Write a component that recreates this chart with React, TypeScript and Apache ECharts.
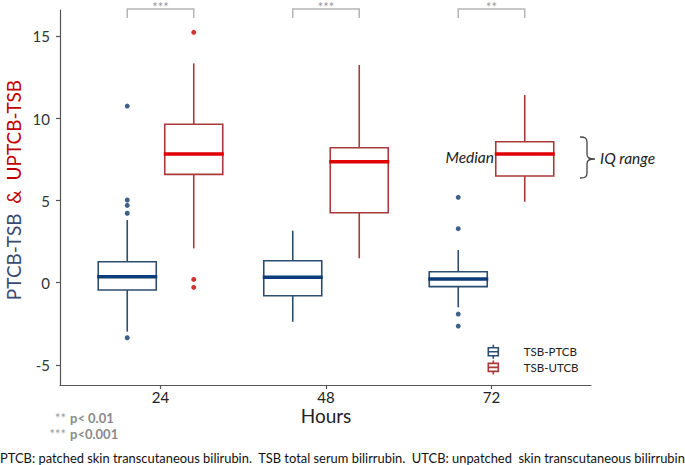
import React, { useEffect, useRef } from 'react';
import * as echarts from 'echarts';

const hours = ['24', '48', '72'];
// each box: [lower whisker, Q1, median, Q3, upper whisker]
const ptcbBoxes = [
  [-2.98, -0.44, 0.37, 1.28, 3.82],
  [-2.38, -0.79, 0.33, 1.34, 3.17],
  [-1.5, -0.24, 0.23, 0.67, 1.99],
];
const utcbBoxes = [
  [2.09, 6.6, 7.84, 9.65, 13.36],
  [1.49, 4.26, 7.37, 8.22, 13.26],
  [4.93, 6.5, 7.84, 8.59, 11.43],
];
// outliers: [hour index, value]
const ptcbOutliers = [
  [0, 10.76], [0, 5.04], [0, 4.71], [0, 4.23], [0, -3.35],
  [2, 5.2], [2, 3.29], [2, -1.91], [2, -2.64],
];
const utcbOutliers = [
  [0, 15.25], [0, 0.2], [0, -0.28],
];
const significance = ['***', '***', '**'];
const yTicks = [-5, 0, 5, 10, 15];
const seriesNames = ['TSB-PTCB', 'TSB-UTCB'];

const FONT = 'Lato, "Noto Sans", sans-serif';
const Y_MIN = -6.23;
const Y_MAX = 16.61;
const BOX_W = 58;
const DODGE = 33.25;
const SP = '\u00a0\u00a0';

const BLUE_BOX = '#2b4d70';
const BLUE_MED = '#0b3d7c';
const BLUE_PT = '#0c3a6c';
const RED_BOX = '#a83a3a';
const RED_MED = '#e00000';
const RED_PT = '#c40000';

const bracePath =
  'M0,0 C5,0 7,1 7,5 L7,17 C7,20 8,22 15,22 C8,22 7,24 7,27 L7,36 C7,40 5,41 0,41';
let braceRegistered = false;
function registerBrace() {
  if (braceRegistered) return;
  echarts.graphic.registerShape('brace', echarts.graphic.extendPath(bracePath, {}) as any);
  braceRegistered = true;
}

function boxRenderer(offset: number, boxColor: string, medColor: string) {
  return (params: any, api: any) => {
    const idx = api.value(0);
    const yMin = api.coord([idx, api.value(1)])[1];
    const yQ1 = api.coord([idx, api.value(2)])[1];
    const yMed = api.coord([idx, api.value(3)])[1];
    const yQ3 = api.coord([idx, api.value(4)])[1];
    const yMax = api.coord([idx, api.value(5)])[1];
    const cx = api.coord([idx, 0])[0] + offset;
    const hw = BOX_W / 2;
    return {
      type: 'group',
      children: [
        { type: 'line', shape: { x1: cx, y1: yMax, x2: cx, y2: yQ3 }, style: { stroke: boxColor, lineWidth: 1.6 } },
        { type: 'line', shape: { x1: cx, y1: yQ1, x2: cx, y2: yMin }, style: { stroke: boxColor, lineWidth: 1.6 } },
        {
          type: 'rect',
          shape: { x: cx - hw, y: yQ3, width: BOX_W, height: yQ1 - yQ3 },
          style: { fill: '#ffffff', stroke: boxColor, lineWidth: 1.6 },
        },
        {
          type: 'line',
          shape: { x1: cx - hw - 1, y1: yMed, x2: cx + hw + 1, y2: yMed },
          style: { stroke: medColor, lineWidth: 3.5 },
        },
      ],
    };
  };
}

export default function App() {
  const ref = useRef<HTMLDivElement>(null);

  useEffect(() => {
    document.body.style.margin = '0';
    registerBrace();
    const chart = echarts.init(ref.current!, undefined, { renderer: 'svg' });

    const legendIcon = 'path://M5,0 L5,3 M0,3 L10,3 L10,11 L0,11 Z M0,7 L10,7 M5,11 L5,14';

    const option: any = {
      animation: false,
      backgroundColor: '#ffffff',
      textStyle: { fontFamily: FONT },
      grid: [
        { left: 60, right: 94, top: 10, bottom: 80 },
        { left: 77.75, right: 110.75, top: 10, bottom: 80 },
      ],
      xAxis: [
        {
          type: 'value',
          gridIndex: 0,
          min: 0,
          max: 1,
          position: 'bottom',
          axisLine: { show: true, onZero: false, lineStyle: { color: '#555', width: 1.2 } },
          axisTick: { show: false },
          axisLabel: { show: false },
          splitLine: { show: false },
        },
        {
          type: 'category',
          gridIndex: 1,
          data: hours,
          position: 'bottom',
          boundaryGap: true,
          axisLine: { show: true, onZero: false, lineStyle: { color: '#555', width: 1.2 } },
          axisTick: { show: true, alignWithLabel: true, length: 4, lineStyle: { color: '#555', width: 1.2 } },
          axisLabel: { fontSize: 15, color: '#222', margin: 4, fontFamily: FONT },
          splitLine: { show: false },
          name: 'Hours',
          nameLocation: 'middle',
          nameGap: 21,
          nameMoveOverlap: false,
          nameTextStyle: { fontSize: 19, color: '#222', fontFamily: FONT },
        },
      ],
      yAxis: [
        {
          type: 'value',
          gridIndex: 0,
          min: Y_MIN,
          max: Y_MAX,
          axisLine: { show: true, onZero: false, lineStyle: { color: '#555', width: 1.2 } },
          axisTick: { show: true, length: 4, customValues: yTicks, lineStyle: { color: '#555', width: 1.2 } },
          axisLabel: { customValues: yTicks, fontSize: 15, color: '#333', margin: 10, fontFamily: FONT },
          splitLine: { show: false },
        },
        {
          type: 'value',
          gridIndex: 1,
          min: Y_MIN,
          max: Y_MAX,
          show: false,
        },
      ],
      legend: {
        orient: 'vertical',
        left: 482.5,
        top: 339,
        itemWidth: 11,
        itemHeight: 14,
        itemGap: 0,
        textStyle: { fontSize: 11.5, color: '#222', fontFamily: FONT, lineHeight: 14, padding: [0, 0, 0, 20] },
        data: [
          {
            name: seriesNames[0],
            icon: legendIcon,
            itemStyle: { color: 'rgba(0,0,0,0)', borderColor: BLUE_BOX, borderWidth: 1.6 },
          },
          {
            name: seriesNames[1],
            icon: legendIcon,
            itemStyle: { color: 'rgba(0,0,0,0)', borderColor: RED_BOX, borderWidth: 1.6 },
          },
        ],
      },
      series: [
        {
          name: seriesNames[0],
          type: 'custom',
          xAxisIndex: 1,
          yAxisIndex: 1,
          itemStyle: { color: BLUE_BOX },
          encode: { x: 0, y: [1, 2, 3, 4, 5] },
          data: ptcbBoxes.map((b, i) => [i, ...b]),
          renderItem: boxRenderer(-DODGE, BLUE_BOX, BLUE_MED),
        },
        {
          name: seriesNames[1],
          type: 'custom',
          xAxisIndex: 1,
          yAxisIndex: 1,
          itemStyle: { color: RED_BOX },
          encode: { x: 0, y: [1, 2, 3, 4, 5] },
          data: utcbBoxes.map((b, i) => [i, ...b]),
          renderItem: boxRenderer(DODGE, RED_BOX, RED_MED),
        },
        {
          name: 'PTCB outliers',
          type: 'scatter',
          xAxisIndex: 1,
          yAxisIndex: 1,
          symbol: 'circle',
          symbolSize: 5,
          symbolOffset: [-DODGE, 0],
          itemStyle: { color: BLUE_PT },
          data: ptcbOutliers,
        },
        {
          name: 'UTCB outliers',
          type: 'scatter',
          xAxisIndex: 1,
          yAxisIndex: 1,
          symbol: 'circle',
          symbolSize: 5,
          symbolOffset: [DODGE, 0],
          itemStyle: { color: RED_PT },
          data: utcbOutliers,
        },
        {
          name: 'significance',
          type: 'custom',
          xAxisIndex: 1,
          yAxisIndex: 1,
          clip: false,
          encode: { x: 0 },
          data: hours.map((_, i) => [i]),
          renderItem: (params: any, api: any) => {
            const x = api.coord([api.value(0), 0])[0];
            return {
              type: 'group',
              children: [
                {
                  type: 'polyline',
                  shape: { points: [[x - DODGE, 18], [x - DODGE, 9], [x + DODGE, 9], [x + DODGE, 18]] },
                  style: { stroke: '#b5b5b5', lineWidth: 1.5, fill: null },
                },
                {
                  type: 'text',
                  style: {
                    text: significance[params.dataIndex],
                    x,
                    y: 0,
                    align: 'center',
                    verticalAlign: 'top',
                    fill: '#9a9a9a',
                    fontSize: 13,
                    fontFamily: FONT,
                  },
                },
              ],
            };
          },
        },
      ],
      graphic: [
        {
          type: 'text',
          x: 13,
          y: 190,
          rotation: Math.PI / 2,
          style: {
            text: `{a|PTCB-TSB}{b|${SP}&${SP}UPTCB-TSB}`,
            align: 'center',
            verticalAlign: 'middle',
            rich: {
              a: { fontSize: 19, fill: '#3a4a6e', fontFamily: FONT },
              b: { fontSize: 19, fill: '#c00000', fontFamily: FONT },
            },
          },
        },
        {
          type: 'text',
          x: 494,
          y: 157,
          style: {
            text: 'Median',
            align: 'right',
            verticalAlign: 'middle',
            fontStyle: 'italic',
            fontSize: 15.5,
            fill: '#222',
            fontFamily: FONT,
          },
        },
        {
          type: 'brace',
          x: 580,
          y: 137,
          style: { stroke: '#444', fill: 'none', lineWidth: 1.3 },
        },
        {
          type: 'text',
          x: 600,
          y: 158,
          style: {
            text: 'IQ range',
            align: 'left',
            verticalAlign: 'middle',
            fontStyle: 'italic',
            fontSize: 15.5,
            fill: '#222',
            fontFamily: FONT,
          },
        },
        {
          type: 'text', x: 66, y: 418,
          style: { text: '**', align: 'right', verticalAlign: 'middle', fontSize: 13, fill: '#9a9a9a', fontFamily: FONT },
        },
        {
          type: 'text', x: 70, y: 418,
          style: { text: 'p< 0.01', align: 'left', verticalAlign: 'middle', fontSize: 13, fontWeight: 'bold', fill: '#8a8a8a', fontFamily: FONT },
        },
        {
          type: 'text', x: 66, y: 434,
          style: { text: '***', align: 'right', verticalAlign: 'middle', fontSize: 13, fill: '#9a9a9a', fontFamily: FONT },
        },
        {
          type: 'text', x: 70, y: 434,
          style: { text: 'p<0.001', align: 'left', verticalAlign: 'middle', fontSize: 13, fontWeight: 'bold', fill: '#8a8a8a', fontFamily: FONT },
        },
        {
          type: 'text',
          x: 0,
          y: 458,
          style: {
            text: `PTCB: patched skin transcutaneous bilirubin.${SP}TSB total serum bilirrubin.${SP}UTCB: unpatched${SP}skin transcutaneous bilirrubin`,
            align: 'left',
            verticalAlign: 'middle',
            fontSize: 12.9,
            fill: '#111',
            fontFamily: FONT,
          },
        },
      ],
    };

    chart.setOption(option);
    return () => chart.dispose();
  }, []);

  return <div ref={ref} style={{ width: 685, height: 465 }} />;
}
